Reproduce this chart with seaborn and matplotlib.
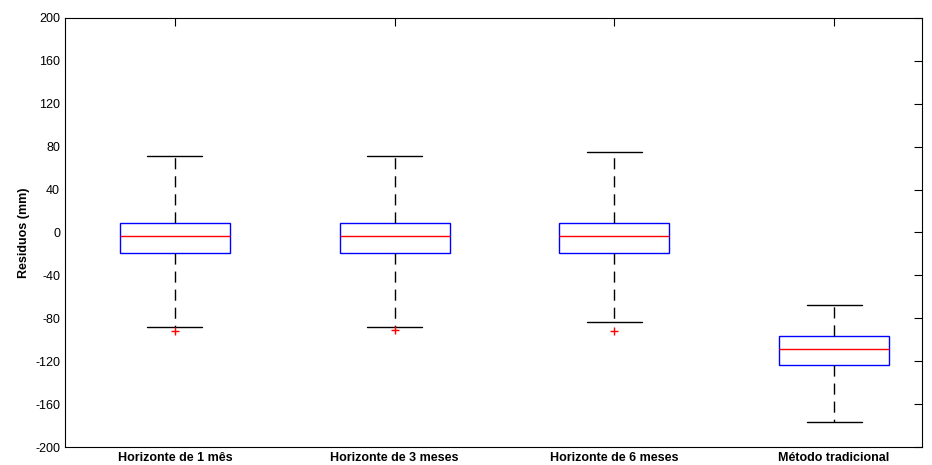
import pandas as pd
import numpy as np
import seaborn as sns
import matplotlib.pyplot as plt

# Box statistics (mm)
groups = ["Horizonte de 1 mês", "Horizonte de 3 meses", "Horizonte de 6 meses", "Método tradicional"]
whisker_low = [-88.5, -88.5, -83.0, -177.0]
q1 = [-19.0, -19.0, -19.0, -124.0]
median = [-3.0, -3.0, -3.0, -108.5]
q3 = [9.0, 9.0, 9.0, -96.5]
whisker_high = [71.0, 71.0, 75.0, -68.0]

# Outliers
outlier_group = ["Horizonte de 1 mês", "Horizonte de 3 meses", "Horizonte de 6 meses"]
outlier_value = [-91.5, -90.5, -91.5]

# Five points per group reproduce the stats exactly with whis=(0, 100)
rows = []
for i, g in enumerate(groups):
    for v in [whisker_low[i], q1[i], median[i], q3[i], whisker_high[i]]:
        rows.append({"grupo": g, "valor": v})
df = pd.DataFrame(rows)
df_out = pd.DataFrame({"grupo": outlier_group, "valor": outlier_value})

sns.set_style("white")
plt.rcParams["font.family"] = ["Liberation Sans", "DejaVu Sans"]
plt.rcParams["axes.unicode_minus"] = False
plt.rcParams["text.color"] = "black"
plt.rcParams["axes.labelcolor"] = "black"
plt.rcParams["xtick.color"] = "black"
plt.rcParams["ytick.color"] = "black"

fig = plt.figure(figsize=(9.32, 4.65), dpi=100)
ax = fig.add_axes([65 / 932, 18 / 465, 857 / 932, 429 / 465])

sns.boxplot(data=df, x="grupo", y="valor", order=groups, whis=(0, 100), width=0.5,
            showfliers=False, linewidth=1, ax=ax,
            boxprops=dict(facecolor="white", edgecolor="blue"),
            medianprops=dict(color="red"),
            whiskerprops=dict(color="black", linestyle=(0, (8, 5))),
            capprops=dict(color="black"))

sns.scatterplot(data=df_out, x="grupo", y="valor", marker="+", color="red",
                s=40, linewidth=1, ax=ax, zorder=5)

ax.set_xlim(-0.5, 3.4)
ax.set_ylim(-200, 200)
ax.set_yticks(np.arange(-200, 201, 40))
ax.set_xlabel("")
ax.set_ylabel("Residuos (mm)", fontsize=9, fontweight="bold")
ax.tick_params(axis="both", direction="in", length=6, width=0.8,
               top=True, right=True, labelsize=9)
for lab in ax.get_xticklabels():
    lab.set_fontweight("bold")
for s in ax.spines.values():
    s.set_color("black")
    s.set_linewidth(0.8)

fig.savefig("out.png", dpi=100)
